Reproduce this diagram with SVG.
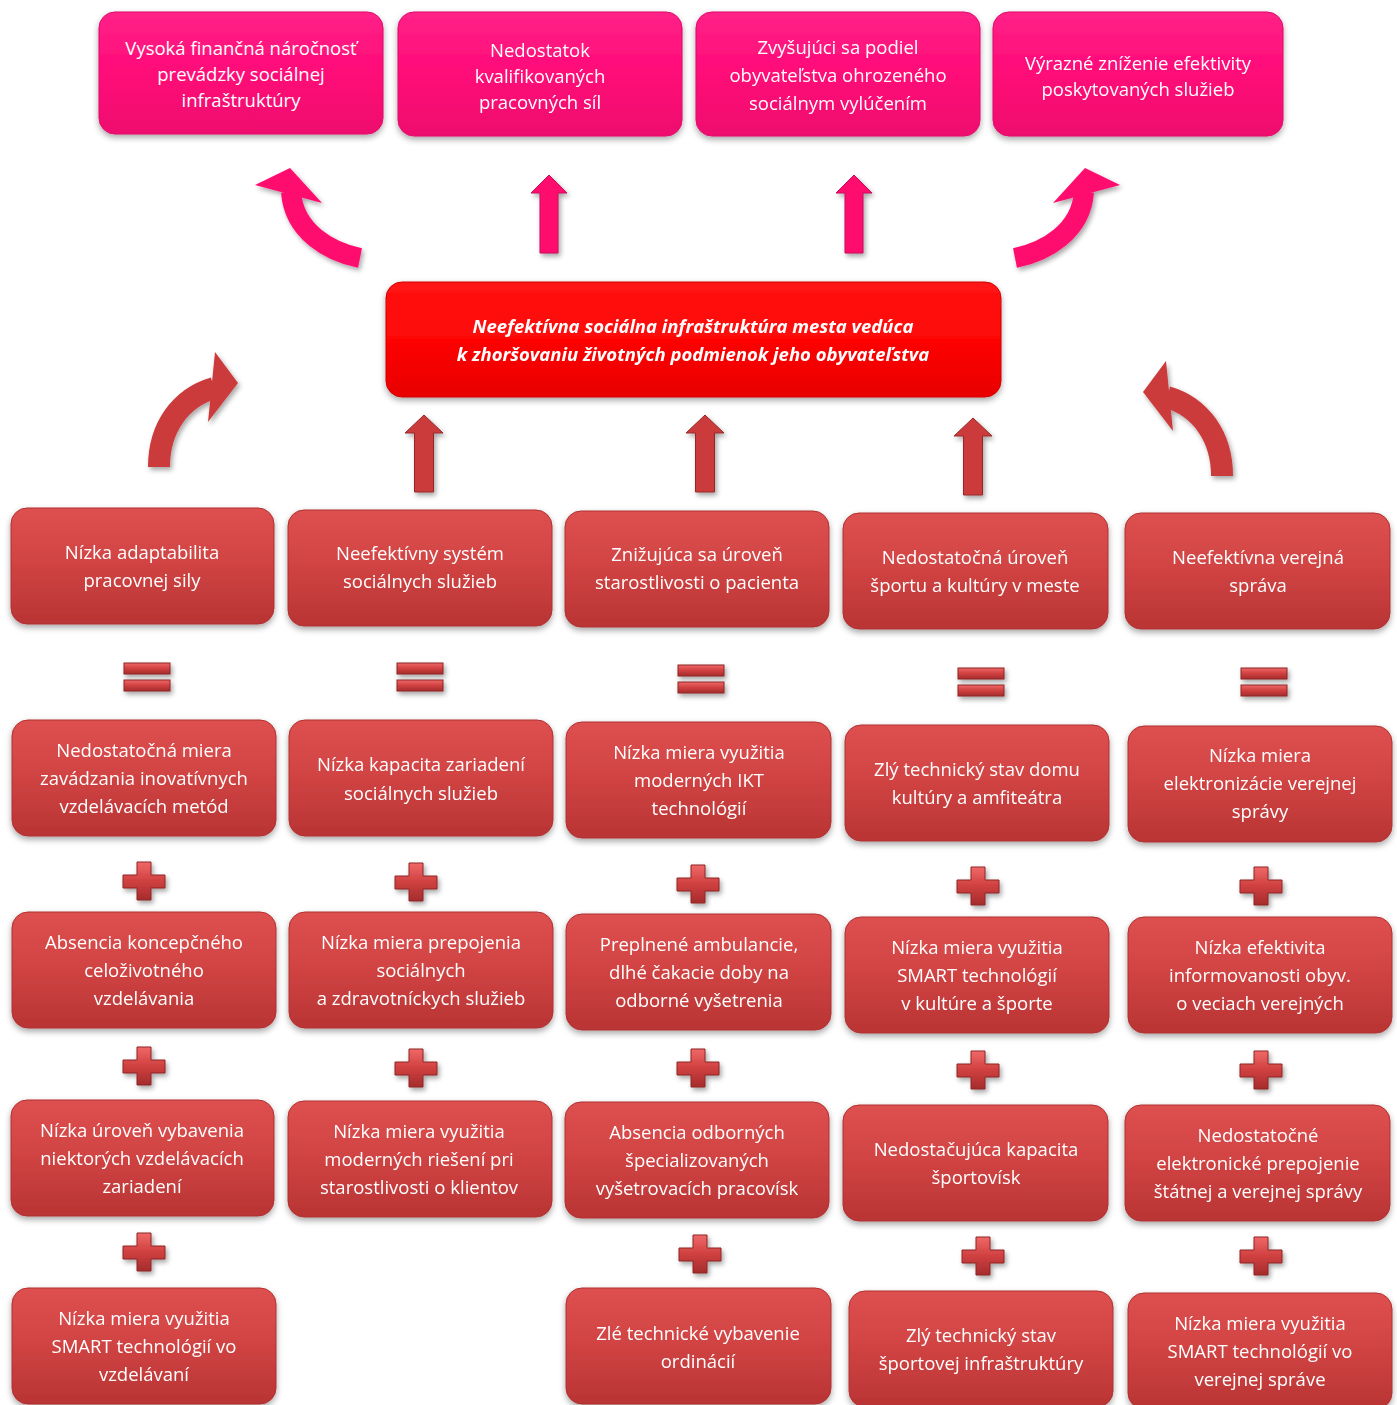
<svg xmlns="http://www.w3.org/2000/svg" xmlns:xlink="http://www.w3.org/1999/xlink" width="1397" height="1405" viewBox="0 0 1397 1405">
<defs>
<linearGradient id="gPink" x1="0" y1="0" x2="0" y2="1"><stop offset="0" stop-color="#FF2287"/><stop offset="0.5" stop-color="#FF0A78"/><stop offset="1" stop-color="#EE0A6E"/></linearGradient>
<linearGradient id="gRed" x1="0" y1="0" x2="0" y2="1"><stop offset="0" stop-color="#FF1414"/><stop offset="0.5" stop-color="#FE0606"/><stop offset="1" stop-color="#E80404"/></linearGradient>
<linearGradient id="gDark" x1="0" y1="0" x2="0" y2="1"><stop offset="0" stop-color="#DE5050"/><stop offset="0.45" stop-color="#D24444"/><stop offset="1" stop-color="#B93434"/></linearGradient>
<linearGradient id="gOp" x1="0" y1="0" x2="0" y2="1"><stop offset="0" stop-color="#F06868"/><stop offset="0.5" stop-color="#D04040"/><stop offset="1" stop-color="#A52C2C"/></linearGradient>
<filter id="sh" x="-10%" y="-10%" width="120%" height="130%"><feDropShadow dx="0" dy="3" stdDeviation="3" flood-color="#000" flood-opacity="0.35"/></filter>
<filter id="sh2" x="-30%" y="-30%" width="160%" height="160%"><feDropShadow dx="2" dy="3" stdDeviation="2.5" flood-color="#000" flood-opacity="0.35"/></filter>
<g id="eq"><rect x="-23" y="-14" width="46" height="11" fill="url(#gOp)" stroke="#8E2626" stroke-width="1"/><rect x="-23" y="3" width="46" height="11" fill="url(#gOp)" stroke="#8E2626" stroke-width="1"/></g>
<path id="plus" d="M-7,-19 H7 V-6 H21 V7 H7 V19 H-7 V7 H-21 V-6 H-7 Z" fill="url(#gOp)" stroke="#8E2626" stroke-width="1"/>
<g id="upPink"><path d="M-9,78 V18 H-18 L0,0 L18,18 H9 V78 Z" fill="#FF0A6E" stroke="#C8085A" stroke-width="1"/></g>
<g id="upRed"><path d="M-9.5,77 V18 H-19 L0,0 L19,18 H9.5 V77 Z" fill="#CC3B3B" stroke="#962828" stroke-width="1"/></g>
<g id="curvPink"><path d="M360,258 C330,252 294,232 291,192" fill="none" stroke="#FF0A6E" stroke-width="20"/><polygon points="255,185 290,168 322,203" fill="#FF0A6E"/></g>
<g id="curvRed"><path d="M159,467 C159,428 180,398 214,388" fill="none" stroke="#CC3B3B" stroke-width="22"/><polygon points="238,383 215,352 208,422" fill="#CC3B3B"/></g>
</defs>
<style>
.pink{fill:url(#gPink);stroke:#E0086A;stroke-width:1;filter:url(#sh)}
.main{fill:url(#gRed);stroke:#D00000;stroke-width:1;filter:url(#sh)}
.box{fill:url(#gDark);stroke:#B03030;stroke-width:1;filter:url(#sh)}
text{font-family:"Open Sans","Liberation Sans",sans-serif;font-size:18.5px;fill:#FFFFFF;text-anchor:middle}
.bt{font-weight:bold;font-style:italic;font-size:18.5px}
</style>
<rect width="1397" height="1405" fill="#FFFFFF"/>

<g id="connectors" filter="url(#sh2)">
<use xlink:href="#curvPink"/>
<use xlink:href="#curvPink" transform="translate(1375,0) scale(-1,1)"/>
<use xlink:href="#upPink" x="549" y="175"/>
<use xlink:href="#upPink" x="854" y="175"/>
<use xlink:href="#curvRed"/>
<use xlink:href="#curvRed" transform="translate(1381,9) scale(-1,1)"/>
<use xlink:href="#upRed" x="424" y="415"/>
<use xlink:href="#upRed" x="705" y="415"/>
<use xlink:href="#upRed" x="973" y="418"/>
<use xlink:href="#eq" x="147" y="677"/>
<use xlink:href="#eq" x="420" y="677"/>
<use xlink:href="#eq" x="701" y="679"/>
<use xlink:href="#eq" x="981" y="682"/>
<use xlink:href="#eq" x="1264" y="682"/>
<use xlink:href="#plus" x="144" y="881"/>
<use xlink:href="#plus" x="416" y="882"/>
<use xlink:href="#plus" x="698" y="884"/>
<use xlink:href="#plus" x="978" y="886"/>
<use xlink:href="#plus" x="1261" y="886"/>
<use xlink:href="#plus" x="144" y="1066"/>
<use xlink:href="#plus" x="416" y="1068"/>
<use xlink:href="#plus" x="698" y="1068"/>
<use xlink:href="#plus" x="978" y="1070"/>
<use xlink:href="#plus" x="1261" y="1070"/>
<use xlink:href="#plus" x="144" y="1252"/>
<use xlink:href="#plus" x="700" y="1254"/>
<use xlink:href="#plus" x="983" y="1256"/>
<use xlink:href="#plus" x="1261" y="1256"/>
</g>

<g id="t1"><rect class="pink" x="99" y="12" width="284" height="122" rx="16"/><text x="241" y="55">Vysoká finančná náročnosť</text><text x="241" y="81">prevádzky sociálnej</text><text x="241" y="107">infraštruktúry</text></g>
<g id="t2"><rect class="pink" x="398" y="12" width="284" height="124" rx="16"/><text x="540" y="57">Nedostatok</text><text x="540" y="83">kvalifikovaných</text><text x="540" y="109">pracovných síl</text></g>
<g id="t3"><rect class="pink" x="696" y="12" width="284" height="124" rx="16"/><text x="838" y="54">Zvyšujúci sa podiel</text><text x="838" y="82">obyvateľstva ohrozeného</text><text x="838" y="110">sociálnym vylúčením</text></g>
<g id="t4"><rect class="pink" x="993" y="12" width="290" height="124" rx="16"/><text x="1138" y="70">Výrazné zníženie efektivity</text><text x="1138" y="96">poskytovaných služieb</text></g>

<g id="center"><rect class="main" x="386" y="282" width="615" height="115" rx="16"/><text class="bt" x="693" y="333">Neefektívna sociálna infraštruktúra mesta vedúca</text><text class="bt" x="693" y="361">k zhoršovaniu životných podmienok jeho obyvateľstva</text></g>

<g id="r1c1"><rect class="box" x="11" y="508" width="263" height="116" rx="16"/><text x="142" y="559">Nízka adaptabilita</text><text x="142" y="587">pracovnej sily</text></g>
<g id="r1c2"><rect class="box" x="288" y="510" width="264" height="116" rx="16"/><text x="420" y="560">Neefektívny systém</text><text x="420" y="588">sociálnych služieb</text></g>
<g id="r1c3"><rect class="box" x="565" y="511" width="264" height="116" rx="16"/><text x="697" y="561">Znižujúca sa úroveň</text><text x="697" y="589">starostlivosti o pacienta</text></g>
<g id="r1c4"><rect class="box" x="843" y="513" width="265" height="116" rx="16"/><text x="975" y="564">Nedostatočná úroveň</text><text x="975" y="592">športu a kultúry v meste</text></g>
<g id="r1c5"><rect class="box" x="1125" y="513" width="265" height="116" rx="16"/><text x="1258" y="564">Neefektívna verejná</text><text x="1258" y="592">správa</text></g>

<g id="r2c1"><rect class="box" x="12" y="720" width="264" height="116" rx="16"/><text x="144" y="757">Nedostatočná miera</text><text x="144" y="785">zavádzania inovatívnych</text><text x="144" y="813">vzdelávacích metód</text></g>
<g id="r2c2"><rect class="box" x="289" y="720" width="264" height="116" rx="16"/><text x="421" y="771">Nízka kapacita zariadení</text><text x="421" y="800">sociálnych služieb</text></g>
<g id="r2c3"><rect class="box" x="566" y="722" width="265" height="116" rx="16"/><text x="699" y="759">Nízka miera využitia</text><text x="699" y="787">moderných IKT</text><text x="699" y="815">technológií</text></g>
<g id="r2c4"><rect class="box" x="845" y="725" width="264" height="116" rx="16"/><text x="977" y="776">Zlý technický stav domu</text><text x="977" y="804">kultúry a amfiteátra</text></g>
<g id="r2c5"><rect class="box" x="1128" y="726" width="264" height="116" rx="16"/><text x="1260" y="762">Nízka miera</text><text x="1260" y="790">elektronizácie verejnej</text><text x="1260" y="818">správy</text></g>

<g id="r3c1"><rect class="box" x="12" y="912" width="264" height="116" rx="16"/><text x="144" y="949">Absencia koncepčného</text><text x="144" y="977">celoživotného</text><text x="144" y="1005">vzdelávania</text></g>
<g id="r3c2"><rect class="box" x="289" y="912" width="264" height="116" rx="16"/><text x="421" y="949">Nízka miera prepojenia</text><text x="421" y="977">sociálnych</text><text x="421" y="1005">a zdravotníckych služieb</text></g>
<g id="r3c3"><rect class="box" x="566" y="914" width="265" height="116" rx="16"/><text x="699" y="951">Preplnené ambulancie,</text><text x="699" y="979">dlhé čakacie doby na</text><text x="699" y="1007">odborné vyšetrenia</text></g>
<g id="r3c4"><rect class="box" x="845" y="917" width="264" height="116" rx="16"/><text x="977" y="954">Nízka miera využitia</text><text x="977" y="982">SMART technológií</text><text x="977" y="1010">v kultúre a športe</text></g>
<g id="r3c5"><rect class="box" x="1128" y="917" width="264" height="116" rx="16"/><text x="1260" y="954">Nízka efektivita</text><text x="1260" y="982">informovanosti obyv.</text><text x="1260" y="1010">o veciach verejných</text></g>

<g id="r4c1"><rect class="box" x="11" y="1100" width="263" height="116" rx="16"/><text x="142" y="1137">Nízka úroveň vybavenia</text><text x="142" y="1165">niektorých vzdelávacích</text><text x="142" y="1193">zariadení</text></g>
<g id="r4c2"><rect class="box" x="288" y="1101" width="264" height="116" rx="16"/><text x="419" y="1138">Nízka miera využitia</text><text x="419" y="1166">moderných riešení pri</text><text x="419" y="1194">starostlivosti o klientov</text></g>
<g id="r4c3"><rect class="box" x="565" y="1102" width="264" height="116" rx="16"/><text x="697" y="1139">Absencia odborných</text><text x="697" y="1167">špecializovaných</text><text x="697" y="1195">vyšetrovacích pracovísk</text></g>
<g id="r4c4"><rect class="box" x="843" y="1105" width="265" height="116" rx="16"/><text x="976" y="1156">Nedostačujúca kapacita</text><text x="976" y="1184">športovísk</text></g>
<g id="r4c5"><rect class="box" x="1125" y="1105" width="265" height="116" rx="16"/><text x="1258" y="1142">Nedostatočné</text><text x="1258" y="1170">elektronické prepojenie</text><text x="1258" y="1198">štátnej a verejnej správy</text></g>

<g id="r5c1"><rect class="box" x="12" y="1288" width="264" height="116" rx="16"/><text x="144" y="1325">Nízka miera využitia</text><text x="144" y="1353">SMART technológií vo</text><text x="144" y="1381">vzdelávaní</text></g>
<g id="r5c3"><rect class="box" x="566" y="1288" width="265" height="116" rx="16"/><text x="698" y="1340">Zlé technické vybavenie</text><text x="698" y="1368">ordinácií</text></g>
<g id="r5c4"><rect class="box" x="849" y="1291" width="264" height="116" rx="16"/><text x="981" y="1342">Zlý technický stav</text><text x="981" y="1370">športovej infraštruktúry</text></g>
<g id="r5c5"><rect class="box" x="1128" y="1293" width="264" height="116" rx="16"/><text x="1260" y="1330">Nízka miera využitia</text><text x="1260" y="1358">SMART technológií vo</text><text x="1260" y="1386">verejnej správe</text></g>
</svg>
